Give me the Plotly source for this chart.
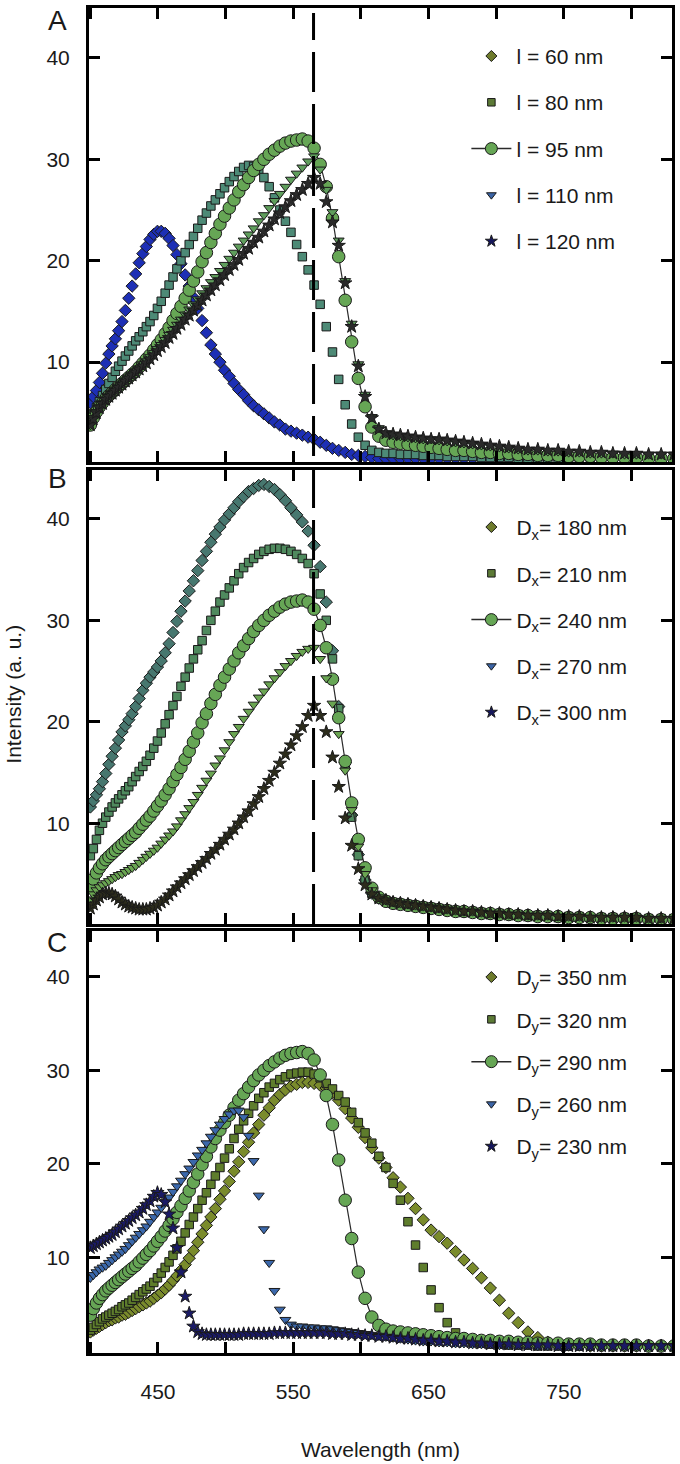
import plotly.graph_objects as go
from plotly.subplots import make_subplots

# ---------------- data ----------------
WL = [400.0, 402.2, 404.5, 406.7, 409.0, 411.4, 413.7, 416.1, 418.5, 420.9,
      423.4, 425.9, 428.4, 430.9, 433.5, 436.1, 438.8, 441.4, 444.1, 446.9,
      449.6, 452.4, 455.3, 458.2, 461.1, 464.0, 467.0, 470.1, 473.1, 476.2,
      479.4, 482.6, 485.8, 489.1, 492.4, 495.8, 499.2, 502.7, 506.2, 509.7,
      513.3, 517.0, 520.7, 524.5, 528.3, 532.2, 536.1, 540.1, 544.2, 548.3,
      552.5, 556.7, 561.0, 565.4, 569.9, 574.4, 579.0, 583.6, 588.4, 593.2,
      598.1, 603.1, 608.1, 613.3, 618.5, 623.8, 629.2, 634.8, 640.4, 646.1,
      651.9, 657.8, 663.8, 670.0, 676.2, 682.6, 689.1, 695.7, 702.4, 709.3,
      716.3, 723.5, 730.8, 738.2, 745.8, 753.6, 761.5, 769.6, 777.8, 786.3,
      794.9, 803.7, 812.7, 822.0, 831.4]

# reference geometry (l = 95 nm, Dx = 240 nm, Dy = 290 nm), shown in all panels
REF_95 = [3.8, 4.5, 5.1, 5.6, 6.0, 6.4, 6.7, 7.0, 7.3, 7.6,
          7.9, 8.2, 8.5, 8.8, 9.1, 9.5, 9.9, 10.3, 10.7, 11.2,
          11.7, 12.2, 12.8, 13.4, 14.1, 14.8, 15.5, 16.3, 17.1, 18.0,
          18.9, 19.9, 20.8, 21.8, 22.7, 23.6, 24.4, 25.2, 26.0, 26.8,
          27.5, 28.2, 28.9, 29.5, 30.0, 30.5, 30.9, 31.3, 31.6, 31.8,
          31.9, 32.0, 31.8, 31.1, 29.5, 27.3, 24.2, 20.4, 16.1, 12.0,
          8.4, 5.6, 3.6, 2.7, 2.3, 2.1, 2.0, 1.9, 1.8, 1.7,
          1.6, 1.5, 1.4, 1.3, 1.3, 1.2, 1.1, 1.1, 1.0, 1.0,
          0.9, 0.9, 0.8, 0.8, 0.8, 0.7, 0.7, 0.7, 0.6, 0.6,
          0.6, 0.6, 0.5, 0.5, 0.5]

# Panel A
A_L60 = [6.0, 6.6, 7.2, 8.0, 8.9, 9.9, 10.8, 11.6, 12.3, 13.1,
         14.0, 15.1, 16.3, 17.5, 18.7, 19.8, 20.7, 21.4, 22.1, 22.6,
         22.9, 22.9, 22.7, 22.2, 21.5, 20.6, 19.7, 18.6, 17.5, 16.4,
         15.3, 14.1, 12.9, 11.7, 10.8, 10.0, 9.2, 8.6, 7.9, 7.3,
         6.8, 6.2, 5.7, 5.3, 4.9, 4.5, 4.1, 3.8, 3.4, 3.2,
         3.0, 2.8, 2.6, 2.4, 2.1, 1.8, 1.5, 1.3, 1.1, 0.9,
         0.8, 0.7, 0.6, 0.5, 0.5, 0.5, 0.5, 0.5, 0.5, 0.5,
         0.5, 0.5, 0.5, 0.5, 0.5, 0.5, 0.5, 0.5, 0.5, 0.5,
         0.5, 0.5, 0.5, 0.5, 0.5, 0.5, 0.5, 0.5, 0.5, 0.5,
         0.5, 0.5, 0.5, 0.5, 0.5]
A_L80 = [4.2, 4.9, 5.5, 6.1, 6.7, 7.3, 7.9, 8.5, 9.1, 9.6,
         10.1, 10.6, 11.1, 11.6, 12.1, 12.5, 13.0, 13.5, 14.0, 14.6,
         15.3, 16.0, 16.8, 17.6, 18.4, 19.2, 20.0, 20.8, 21.6, 22.4,
         23.2, 24.0, 24.7, 25.4, 26.0, 26.6, 27.2, 27.8, 28.3, 28.8,
         29.2, 29.4, 29.3, 28.9, 28.2, 27.3, 26.2, 25.0, 23.9, 22.8,
         21.6, 20.4, 19.1, 17.6, 15.7, 13.5, 11.0, 8.3, 5.8, 3.9,
         2.6, 1.8, 1.3, 1.1, 1.0, 1.0, 0.9, 0.9, 0.9, 0.8,
         0.8, 0.8, 0.7, 0.7, 0.7, 0.7, 0.6, 0.6, 0.6, 0.6,
         0.5, 0.5, 0.5, 0.5, 0.5, 0.5, 0.5, 0.5, 0.5, 0.5,
         0.5, 0.5, 0.5, 0.5, 0.5]
A_L95 = REF_95
A_L110 = [3.8, 4.5, 5.1, 5.6, 6.0, 6.4, 6.7, 7.0, 7.3, 7.6,
          7.9, 8.2, 8.5, 8.8, 9.1, 9.4, 9.8, 10.1, 10.5, 10.9,
          11.3, 11.7, 12.2, 12.7, 13.2, 13.7, 14.2, 14.7, 15.2, 15.7,
          16.2, 16.8, 17.3, 17.9, 18.4, 19.0, 19.6, 20.2, 20.8, 21.4,
          22.0, 22.6, 23.2, 23.9, 24.5, 25.2, 25.9, 26.6, 27.3, 28.0,
          28.6, 29.2, 29.8, 30.3, 29.0, 27.0, 24.8, 22.0, 18.0, 13.8,
          9.8, 6.8, 4.6, 3.5, 3.0, 2.8, 2.7, 2.6, 2.5, 2.4,
          2.4, 2.3, 2.2, 2.1, 2.0, 1.9, 1.8, 1.7, 1.6, 1.5,
          1.4, 1.3, 1.3, 1.2, 1.2, 1.1, 1.1, 1.0, 1.0, 1.0,
          0.9, 0.9, 0.9, 0.9, 0.9]
A_L120 = [3.8, 4.4, 5.0, 5.5, 5.9, 6.3, 6.6, 6.9, 7.2, 7.5,
          7.8, 8.1, 8.4, 8.7, 9.0, 9.3, 9.6, 9.9, 10.3, 10.7,
          11.1, 11.5, 11.9, 12.4, 12.8, 13.3, 13.7, 14.2, 14.6, 15.1,
          15.6, 16.1, 16.6, 17.1, 17.6, 18.1, 18.6, 19.1, 19.6, 20.1,
          20.7, 21.2, 21.8, 22.3, 22.9, 23.5, 24.1, 24.7, 25.3, 25.9,
          26.5, 27.0, 27.6, 28.2, 27.6, 25.8, 23.8, 21.5, 17.8, 13.5,
          9.6, 6.6, 4.5, 3.4, 3.0, 2.9, 2.8, 2.7, 2.6, 2.5,
          2.4, 2.4, 2.3, 2.2, 2.1, 2.0, 1.9, 1.8, 1.7, 1.6,
          1.5, 1.4, 1.4, 1.3, 1.3, 1.2, 1.2, 1.1, 1.1, 1.0,
          1.0, 1.0, 0.9, 0.9, 0.9]

# Panel B
B_DX180 = [11.6, 12.2, 12.8, 13.4, 14.1, 14.9, 15.8, 16.6, 17.4, 18.2,
           19.0, 19.6, 20.2, 20.8, 21.5, 22.3, 23.1, 23.8, 24.4, 24.9,
           25.4, 26.0, 26.8, 27.7, 28.8, 29.9, 30.9, 31.9, 32.9, 33.9,
           34.9, 35.9, 36.8, 37.7, 38.5, 39.2, 39.9, 40.5, 41.1, 41.7,
           42.2, 42.7, 43.0, 43.3, 43.4, 43.2, 42.9, 42.4, 41.8, 41.1,
           40.4, 39.7, 38.8, 37.4, 35.3, 31.8, 27.0, 21.5, 16.0, 10.8,
           6.9, 4.4, 3.1, 2.6, 2.4, 2.2, 2.1, 2.0, 1.9, 1.8,
           1.7, 1.6, 1.5, 1.4, 1.3, 1.3, 1.2, 1.1, 1.1, 1.0,
           1.0, 0.9, 0.9, 0.9, 0.8, 0.8, 0.8, 0.7, 0.7, 0.7,
           0.7, 0.7, 0.6, 0.6, 0.6]
B_DX210 = [6.8, 7.5, 8.4, 9.3, 10.0, 10.6, 11.1, 11.6, 12.0, 12.4,
           12.8, 13.2, 13.6, 14.1, 14.6, 15.1, 15.6, 16.1, 16.7, 17.4,
           18.1, 18.9, 19.8, 20.7, 21.6, 22.5, 23.5, 24.4, 25.3, 26.2,
           27.1, 28.0, 29.0, 30.0, 30.9, 31.8, 32.5, 33.2, 33.9, 34.6,
           35.2, 35.7, 36.1, 36.5, 36.8, 37.0, 37.1, 37.1, 37.0, 36.8,
           36.5, 36.1, 35.6, 34.6, 32.6, 30.0, 26.2, 21.3, 15.8, 10.6,
           6.8, 4.4, 3.1, 2.6, 2.4, 2.2, 2.1, 2.0, 1.9, 1.8,
           1.7, 1.6, 1.5, 1.4, 1.3, 1.3, 1.2, 1.1, 1.1, 1.0,
           1.0, 0.9, 0.9, 0.9, 0.8, 0.8, 0.8, 0.7, 0.7, 0.7,
           0.7, 0.7, 0.6, 0.6, 0.6]
B_DX240 = REF_95
B_DX270 = [2.5, 3.0, 3.4, 3.7, 3.9, 4.1, 4.3, 4.5, 4.7, 4.9,
           5.0, 5.2, 5.4, 5.6, 5.8, 6.1, 6.4, 6.7, 7.0, 7.3,
           7.6, 8.0, 8.4, 8.8, 9.2, 9.7, 10.3, 10.9, 11.5, 12.1,
           12.8, 13.5, 14.2, 14.9, 15.7, 16.4, 17.2, 18.0, 18.8, 19.5,
           20.3, 21.0, 21.7, 22.4, 23.0, 23.7, 24.3, 24.9, 25.5, 26.0,
           26.5, 26.9, 27.2, 27.3, 26.2, 24.3, 21.8, 18.8, 15.2, 11.3,
           7.7, 5.0, 3.4, 2.7, 2.4, 2.2, 2.1, 2.0, 1.9, 1.8,
           1.7, 1.6, 1.5, 1.4, 1.3, 1.3, 1.2, 1.1, 1.1, 1.0,
           1.0, 0.9, 0.9, 0.9, 0.8, 0.8, 0.8, 0.7, 0.7, 0.7,
           0.7, 0.7, 0.6, 0.6, 0.6]
B_DX300 = [1.6, 2.0, 2.4, 2.7, 3.0, 3.1, 3.1, 3.0, 2.8, 2.5,
           2.2, 2.0, 1.8, 1.7, 1.6, 1.5, 1.5, 1.5, 1.6, 1.7,
           1.9, 2.2, 2.5, 2.9, 3.3, 3.7, 4.1, 4.5, 4.9, 5.3,
           5.7, 6.1, 6.5, 7.0, 7.4, 7.9, 8.4, 8.9, 9.4, 10.0,
           10.6, 11.2, 11.9, 12.6, 13.4, 14.2, 15.0, 15.9, 16.8, 17.7,
           18.6, 19.5, 20.6, 21.6, 20.6, 19.0, 16.5, 13.6, 10.5, 7.8,
           5.5, 3.9, 3.0, 2.6, 2.4, 2.2, 2.1, 2.0, 1.9, 1.8,
           1.7, 1.6, 1.5, 1.4, 1.3, 1.3, 1.2, 1.1, 1.1, 1.0,
           1.0, 0.9, 0.9, 0.9, 0.8, 0.8, 0.8, 0.7, 0.7, 0.7,
           0.7, 0.7, 0.6, 0.6, 0.6]

# Panel C
C_DY350 = [2.0, 2.2, 2.4, 2.6, 2.8, 3.0, 3.2, 3.3, 3.5, 3.6,
           3.8, 3.9, 4.1, 4.3, 4.5, 4.7, 4.9, 5.1, 5.3, 5.6,
           5.9, 6.2, 6.6, 7.0, 7.5, 8.0, 8.6, 9.2, 9.9, 10.7,
           11.6, 12.5, 13.4, 14.3, 15.2, 16.2, 17.1, 18.1, 19.2, 20.2,
           21.3, 22.3, 23.3, 24.2, 25.2, 26.0, 26.8, 27.4, 27.9, 28.3,
           28.5, 28.7, 28.7, 28.6, 28.4, 28.1, 27.6, 26.8, 25.9, 24.9,
           23.9, 22.8, 21.7, 20.6, 19.6, 18.5, 17.5, 16.3, 15.2, 14.0,
           12.9, 12.2, 11.5, 10.6, 9.7, 8.8, 7.8, 6.7, 5.4, 4.0,
           3.0, 2.0, 1.4, 0.9, 0.7, 0.6, 0.6, 0.5, 0.5, 0.5,
           0.5, 0.5, 0.5, 0.5, 0.5]
C_DY320 = [2.2, 2.5, 2.8, 3.1, 3.4, 3.6, 3.8, 4.0, 4.2, 4.4,
           4.7, 4.9, 5.1, 5.4, 5.7, 6.0, 6.3, 6.6, 6.9, 7.3,
           7.8, 8.3, 8.9, 9.5, 10.2, 10.9, 11.7, 12.6, 13.5, 14.3,
           15.2, 16.1, 16.9, 17.8, 18.7, 19.6, 20.6, 21.6, 22.7, 23.7,
           24.6, 25.4, 26.2, 27.0, 27.6, 28.2, 28.6, 29.0, 29.3, 29.6,
           29.7, 29.8, 29.8, 29.6, 29.2, 28.6, 28.0, 27.3, 26.6, 25.5,
           24.4, 23.3, 22.2, 20.8, 19.6, 17.9, 16.1, 13.8, 11.3, 8.9,
           6.5, 4.6, 3.0, 1.9, 1.2, 0.9, 0.8, 0.7, 0.7, 0.6,
           0.6, 0.6, 0.5, 0.5, 0.5, 0.5, 0.5, 0.5, 0.5, 0.5,
           0.5, 0.5, 0.5, 0.5, 0.5]
C_DY290 = REF_95
C_DY260 = [7.8, 8.1, 8.4, 8.7, 8.9, 9.1, 9.4, 9.7, 10.0, 10.3,
           10.6, 10.9, 11.3, 11.7, 12.1, 12.5, 12.9, 13.3, 13.8, 14.3,
           14.8, 15.3, 15.9, 16.4, 17.0, 17.6, 18.2, 18.9, 19.5, 20.2,
           20.9, 21.5, 22.2, 22.9, 23.6, 24.2, 24.8, 25.3, 25.7, 25.7,
           25.0, 23.0, 20.3, 16.6, 13.0, 9.4, 6.4, 4.4, 3.3, 2.8,
           2.6, 2.6, 2.5, 2.5, 2.4, 2.4, 2.3, 2.2, 2.1, 2.0,
           1.9, 1.8, 1.7, 1.6, 1.5, 1.4, 1.3, 1.2, 1.1, 1.0,
           1.0, 0.9, 0.9, 0.8, 0.8, 0.7, 0.7, 0.7, 0.6, 0.6,
           0.6, 0.6, 0.5, 0.5, 0.5, 0.5, 0.5, 0.5, 0.5, 0.5,
           0.5, 0.5, 0.5, 0.5, 0.5]
C_DY230 = [11.0, 11.2, 11.4, 11.6, 11.8, 12.0, 12.2, 12.4, 12.7, 13.0,
           13.3, 13.6, 13.9, 14.2, 14.5, 14.8, 15.2, 15.6, 16.0, 16.5,
           16.9, 16.7, 15.9, 14.6, 13.1, 11.0, 8.4, 5.8, 4.0, 2.6,
           2.0, 1.8, 1.7, 1.7, 1.7, 1.7, 1.7, 1.7, 1.7, 1.7,
           1.8, 1.8, 1.8, 1.8, 1.8, 1.8, 1.9, 1.9, 1.9, 1.9,
           1.9, 1.9, 1.9, 1.9, 1.9, 1.9, 1.8, 1.8, 1.8, 1.7,
           1.7, 1.6, 1.6, 1.5, 1.5, 1.4, 1.3, 1.3, 1.2, 1.1,
           1.1, 1.0, 1.0, 0.9, 0.9, 0.8, 0.8, 0.7, 0.7, 0.7,
           0.6, 0.6, 0.6, 0.6, 0.5, 0.5, 0.5, 0.5, 0.5, 0.5,
           0.5, 0.5, 0.5, 0.5, 0.5]

NAMES_A = ["l = 60 nm", "l = 80 nm", "l = 95 nm", "l = 110 nm", "l = 120 nm"]
NAMES_B = ["D<sub>x</sub>= 180 nm", "D<sub>x</sub>= 210 nm", "D<sub>x</sub>= 240 nm",
           "D<sub>x</sub>= 270 nm", "D<sub>x</sub>= 300 nm"]
NAMES_C = ["D<sub>y</sub>= 350 nm", "D<sub>y</sub>= 320 nm", "D<sub>y</sub>= 290 nm",
           "D<sub>y</sub>= 260 nm", "D<sub>y</sub>= 230 nm"]

X_MAJOR_START, X_MAJOR_STEP, X_MINOR_STEP = 450, 100, 50
Y_TICKS = [10, 20, 30, 40]
RAYLEIGH_WL = 565

# ---------------- styling ----------------
SYMBOLS = ["diamond", "square", "circle", "triangle-down", "star"]
SIZES = [9.5, 8.5, 12.5, 9.5, 10]
LEG_COLORS = ["#6e7b2c", "#5c7a36", "#66a655", "#3b64a6", "#15165c"]
PANEL_COLORS = [
    ["#1d2fb5", "#4d8a76", "#66a655", "#5f9e5c", "#2a2a2a"],
    ["#47776f", "#4f8a5e", "#66a655", "#6aa552", "#2c2c1c"],
    ["#7a8b2c", "#5e7d2c", "#66a655", "#3b68ab", "#1a1a66"],
]
EDGE = "#1a1a1a"
FONT = "Arial, Liberation Sans, Helvetica, sans-serif"

panels = [
    ([A_L60, A_L80, A_L95, A_L110, A_L120], NAMES_A, "legend"),
    ([B_DX180, B_DX210, B_DX240, B_DX270, B_DX300], NAMES_B, "legend2"),
    ([C_DY350, C_DY320, C_DY290, C_DY260, C_DY230], NAMES_C, "legend3"),
]

fig = make_subplots(rows=3, cols=1)

for p, (series, names, leg) in enumerate(panels):
    row = p + 1
    for k, ys in enumerate(series):
        is_line = SYMBOLS[k] == "circle"
        fig.add_trace(go.Scatter(
            x=WL, y=ys, mode="lines+markers" if is_line else "markers",
            line=dict(color="#2a2a2a", width=1.2),
            marker=dict(symbol=SYMBOLS[k], size=SIZES[k], color=PANEL_COLORS[p][k],
                        line=dict(color=EDGE, width=1)),
            showlegend=False, hoverinfo="skip"), row=row, col=1)
    for k, nm in enumerate(names):
        is_line = SYMBOLS[k] == "circle"
        fig.add_trace(go.Scatter(
            x=[None], y=[None], mode="lines+markers" if is_line else "markers",
            name=nm, legend=leg, legendgroup=f"{leg}_{k}",
            line=dict(color="#2a2a2a", width=1.5),
            marker=dict(symbol=SYMBOLS[k], size=12 if is_line else SIZES[k] - 1,
                        color=LEG_COLORS[k], line=dict(color=EDGE, width=1))),
            row=row, col=1)

Y_DOMAINS = [[0.6625, 1.0], [0.319, 0.6565], [0.0, 0.3138]]
Y_RANGES = [[0.16, 44.92], [0.07, 44.82], [-0.25, 44.91]]

axis_common = dict(showline=True, linewidth=3, linecolor="black", mirror="allticks",
                   ticks="inside", ticklen=11, tickwidth=2.5, tickcolor="black",
                   showgrid=False, zeroline=False,
                   tickfont=dict(family=FONT, size=21, color="#1a1a1a"))

for p in range(3):
    row = p + 1
    fig.update_xaxes(range=[399, 830], tickmode="linear", tick0=X_MAJOR_START,
                     dtick=X_MAJOR_STEP,
                     minor=dict(tick0=X_MAJOR_START, dtick=X_MINOR_STEP, ticks="inside",
                                ticklen=11, tickwidth=2.5, tickcolor="black", showgrid=False),
                     showticklabels=(row == 3), ticklabelstandoff=18,
                     row=row, col=1, **axis_common)
    fig.update_yaxes(range=Y_RANGES[p], domain=Y_DOMAINS[p], tickvals=Y_TICKS,
                     ticklabelstandoff=12, row=row, col=1, **axis_common)

legend_common = dict(font=dict(family=FONT, size=21, color="#1a1a1a"),
                     bgcolor="rgba(0,0,0,0)", borderwidth=0, xanchor="left",
                     yanchor="top", itemwidth=40, itemclick=False)
fig.update_layout(
    legend=dict(x=0.6473, y=0.9793, tracegroupgap=16, **legend_common),
    legend2=dict(x=0.6473, y=0.6291, tracegroupgap=16, **legend_common),
    legend3=dict(x=0.6473, y=0.2945, tracegroupgap=12, **legend_common),
)

# dashed vertical guide through panels A and B
fig.add_shape(type="line", xref="x", yref="paper", x0=RAYLEIGH_WL, x1=RAYLEIGH_WL,
              y0=0.319, y1=0.9963, line=dict(color="black", width=3, dash="40px,12px"))

ann_font = dict(family=FONT, size=21, color="#1a1a1a")
for lab, yy in [("A", 0.991), ("B", 0.6499), ("C", 0.3049)]:
    fig.add_annotation(text=lab, xref="paper", yref="paper", x=-0.0548, y=yy,
                       xanchor="center", yanchor="middle", showarrow=False,
                       font=dict(family=FONT, size=28, color="#1a1a1a"))
fig.add_annotation(text="Intensity (a. u.)", xref="paper", yref="paper", x=-0.130, y=0.4896,
                   textangle=-90, xanchor="center", yanchor="middle", showarrow=False, font=ann_font)
fig.add_annotation(text="Wavelength (nm)", xref="paper", yref="paper", x=0.5, y=-0.072,
                   xanchor="center", yanchor="middle", showarrow=False, font=ann_font)

fig.update_layout(width=680, height=1464, margin=dict(l=89, r=7, t=5, b=111),
                  plot_bgcolor="white", paper_bgcolor="white",
                  font=dict(family=FONT, size=21, color="#1a1a1a"))

fig.write_html("out.html", config={"displayModeBar": False},
               post_script="document.body.style.margin='0px';")
